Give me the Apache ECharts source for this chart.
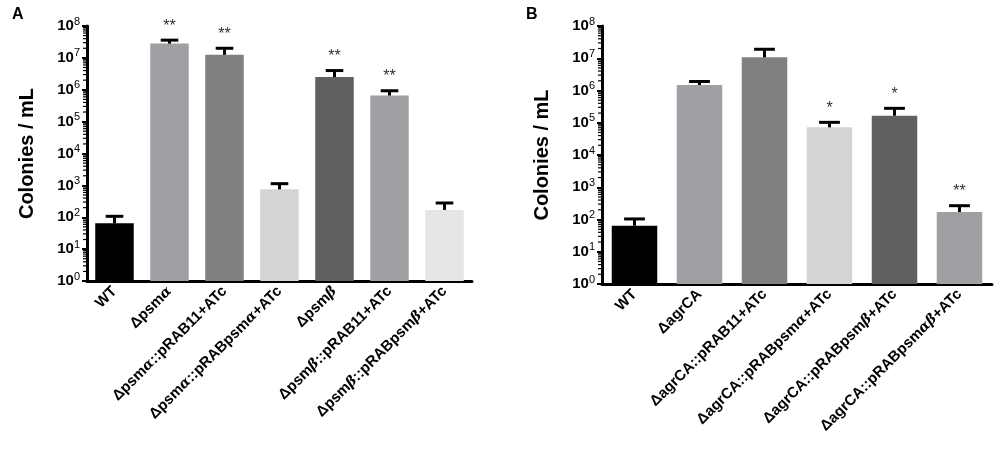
<!DOCTYPE html>
<html>
<head>
<meta charset="utf-8">
<script src="https://cdn.jsdelivr.net/npm/echarts@6/dist/echarts.min.js"></script>
<style>
  html, body { margin: 0; padding: 0; background: #fff; }
  #main { width: 1000px; height: 459px; }
</style>
</head>
<body>
<div id="main"></div>
<script>
// panel A
var catsA = ['WT', 'Δpsmα', 'Δpsmα::pRAB11+ATc', 'Δpsmα::pRABpsmα+ATc', 'Δpsmβ', 'Δpsmβ::pRAB11+ATc', 'Δpsmβ::pRABpsmβ+ATc'];
var meanA = [65, 2.8e7, 1.25e7, 750, 2.5e6, 6.6e5, 170];
var errA = [107, 3.6e7, 2.0e7, 1130, 4.0e6, 9.3e5, 280];
var sigA = ['', '**', '**', '', '**', '**', ''];
var colorA = ['#000000', '#a0a0a4', '#808080', '#d4d4d4', '#606060', '#a0a0a4', '#e6e6e6'];

// panel B
var catsB = ['WT', 'ΔagrCA', 'ΔagrCA::pRAB11+ATc', 'ΔagrCA::pRABpsmα+ATc', 'ΔagrCA::pRABpsmβ+ATc', 'ΔagrCA::pRABpsmαβ+ATc'];
var meanB = [64, 1.48e6, 1.07e7, 7.2e4, 1.65e5, 170];
var errB = [104, 1.9e6, 1.9e7, 1.03e5, 2.8e5, 268];
var sigB = ['', '', '', '*', '*', '**'];
var colorB = ['#000000', '#a0a0a4', '#808080', '#d4d4d4', '#606060', '#a0a0a4'];

// decades of the log axis, used for the minor ticks (2..9 in each)
var decades = [1, 10, 100, 1e3, 1e4, 1e5, 1e6, 1e7];
var minorSteps = [2, 3, 4, 5, 6, 7, 8, 9];

var font = 'Liberation Sans, Arial, sans-serif';

function greek(s) {
    // greek letters drawn in italic like the original
    return s.replace(/([αβ]+)/g, '{g|$1}');
}

function xAxisFor(idx, cats) {
    return {
        type: 'category',
        gridIndex: idx,
        data: cats,
        axisLine: { lineStyle: { color: '#000', width: 3 } },
        axisTick: { alignWithLabel: true, length: 5, lineStyle: { color: '#000', width: 2.5 } },
        axisLabel: {
            interval: 0,
            rotate: 45,
            margin: 8,
            color: '#000',
            fontWeight: 'bold',
            fontSize: 15,
            fontFamily: font,
            formatter: greek,
            rich: {
                g: { fontStyle: 'italic', fontFamily: 'DejaVu Serif', fontSize: 14, color: '#000' }
            }
        }
    };
}

function yAxisFor(idx) {
    return {
        type: 'log',
        gridIndex: idx,
        logBase: 10,
        min: 1,
        max: 1e8,
        interval: 1,
        name: 'Colonies / mL',
        nameLocation: 'middle',
        nameGap: 50,
        nameTextStyle: { color: '#000', fontSize: 20, fontWeight: 'bold', fontFamily: font },
        axisLine: { show: true, lineStyle: { color: '#000', width: 3 } },
        axisTick: { show: true, length: 5, lineStyle: { color: '#000', width: 2 } },
        splitLine: { show: false },
        axisLabel: {
            margin: 7,
            color: '#000',
            formatter: function (v) {
                return '{b|10}{s|' + Math.round(Math.log10(v)) + '}';
            },
            rich: {
                b: { fontSize: 15, fontWeight: 'bold', fontFamily: font, color: '#000' },
                s: { fontSize: 11, fontFamily: font, color: '#000', padding: [0, 0, 9, 0] }
            }
        }
    };
}

function barSeries(idx, mean, colors) {
    return {
        type: 'bar',
        xAxisIndex: idx,
        yAxisIndex: idx,
        barWidth: '70%',
        data: mean.map(function (v, i) {
            return { value: v, itemStyle: { color: colors[i] } };
        })
    };
}

function errSeries(idx, mean, err, sig) {
    return {
        type: 'custom',
        xAxisIndex: idx,
        yAxisIndex: idx,
        z: 3,
        data: mean.map(function (v, i) { return [i, v, err[i]]; }),
        renderItem: function (params, api) {
            var i = api.value(0);
            var base = api.coord([i, api.value(1)]);
            var top = api.coord([i, api.value(2)]);
            var half = api.size([1, 0])[0] * 0.16;
            var st = { stroke: '#000', lineWidth: 3 };
            var kids = [
                { type: 'line', shape: { x1: base[0], y1: base[1], x2: top[0], y2: top[1] + 1 }, style: st },
                { type: 'line', shape: { x1: top[0] - half, y1: top[1], x2: top[0] + half, y2: top[1] }, style: st }
            ];
            var s = sig[params.dataIndex];
            if (s) {
                kids.push({
                    type: 'text',
                    style: {
                        text: s, x: top[0], y: top[1] - 14,
                        align: 'center', verticalAlign: 'middle',
                        fontSize: 16, fontFamily: font, fill: '#333'
                    }
                });
            }
            return { type: 'group', children: kids };
        }
    };
}

// minor ticks of the log axis, drawn on the left of the axis line
function minorTickSeries(idx) {
    return {
        type: 'custom',
        xAxisIndex: idx,
        yAxisIndex: idx,
        silent: true,
        z: 4,
        data: decades.map(function (d) { return [0, d]; }),
        renderItem: function (params, api) {
            var d = api.value(1);
            var x0 = params.coordSys.x;
            var kids = minorSteps.map(function (m) {
                var p = api.coord([0, d * m]);
                return {
                    type: 'line',
                    shape: { x1: x0 - 4, y1: p[1], x2: x0, y2: p[1] },
                    style: { stroke: '#000', lineWidth: 1.2 }
                };
            });
            return { type: 'group', children: kids };
        }
    };
}

var myChart = echarts.init(document.getElementById('main'));
var option = {
    animation: false,
    backgroundColor: '#fff',
    title: [
        { text: 'A', left: 7, top: 2, textStyle: { fontSize: 16, fontWeight: 'bold', fontFamily: font, color: '#000' } },
        { text: 'B', left: 521, top: 2, textStyle: { fontSize: 16, fontWeight: 'bold', fontFamily: font, color: '#000' } }
    ],
    grid: [
        { left: 87, top: 26, width: 385, height: 255 },
        { left: 602, top: 26, width: 390, height: 258 }
    ],
    xAxis: [xAxisFor(0, catsA), xAxisFor(1, catsB)],
    yAxis: [yAxisFor(0), yAxisFor(1)],
    series: [
        barSeries(0, meanA, colorA),
        errSeries(0, meanA, errA, sigA),
        minorTickSeries(0),
        barSeries(1, meanB, colorB),
        errSeries(1, meanB, errB, sigB),
        minorTickSeries(1)
    ]
};
myChart.setOption(option);
</script>
</body>
</html>
